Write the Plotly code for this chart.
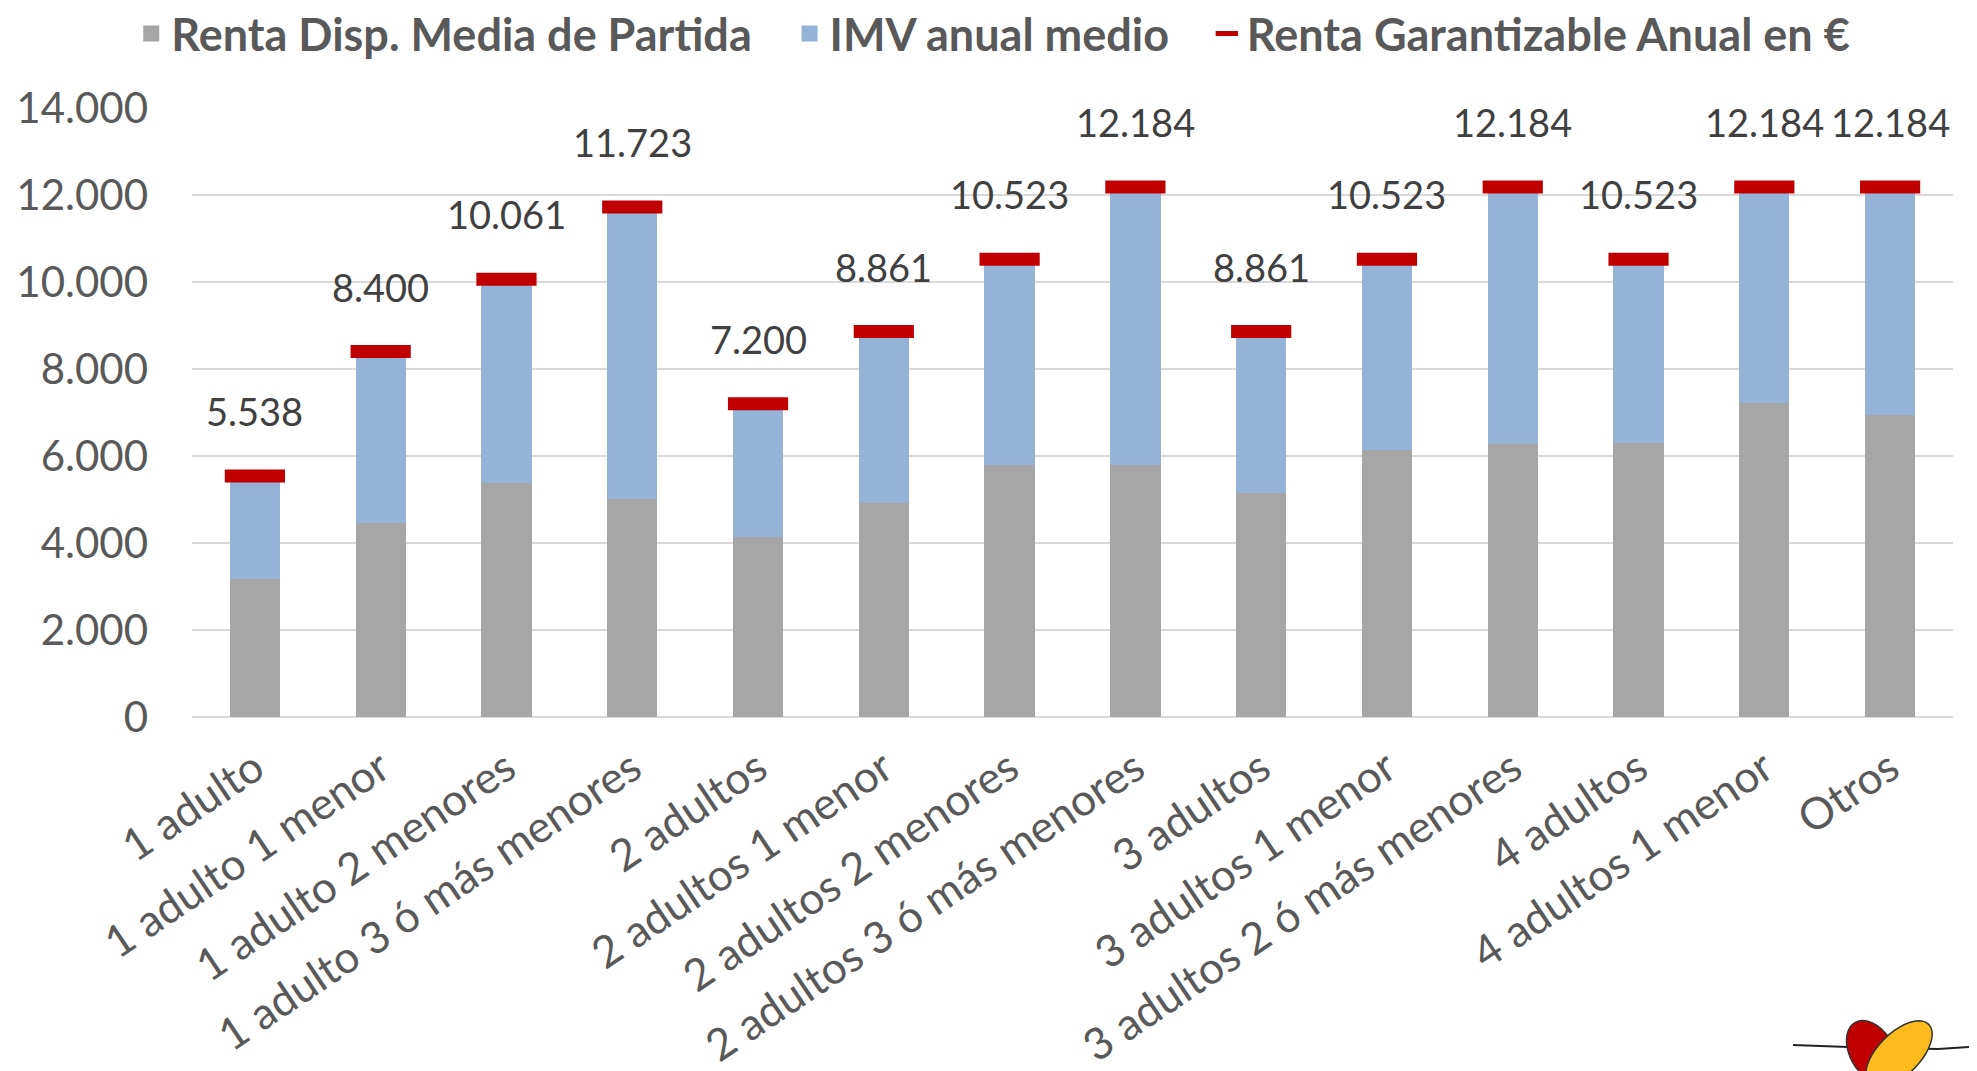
import math
import plotly.graph_objects as go

categorias = ["1 adulto", "1 adulto 1 menor", "1 adulto 2 menores", "1 adulto 3 ó más menores",
              "2 adultos", "2 adultos 1 menor", "2 adultos 2 menores", "2 adultos 3 ó más menores",
              "3 adultos", "3 adultos 1 menor", "3 adultos 2 ó más menores", "4 adultos",
              "4 adultos 1 menor", "Otros"]
renta_partida = [3180, 4460, 5380, 5020, 4130, 4920, 5790, 5790, 5140, 6140, 6270, 6310, 7210, 6950]
imv_anual = [2358, 3940, 4681, 6703, 3070, 3941, 4733, 6394, 3721, 4383, 5914, 4213, 4974, 5234]
renta_garantizable = [5538, 8400, 10061, 11723, 7200, 8861, 10523, 12184, 8861, 10523, 12184, 10523, 12184, 12184]
y_ticks = [0, 2000, 4000, 6000, 8000, 10000, 12000, 14000]

GRAY = "#A6A6A6"
BLUE = "#95B3D7"
RED = "#C00000"
FONT = "Lato"
SP = "\u00a0\u00a0\u00a0"

W, H = 1977, 1071
ML, MR, MT, MB = 184, 32, 100, 362

fig = go.Figure()
fig.add_trace(go.Bar(x=categorias, y=renta_partida, name="Renta Disp. Media de Partida",
                     marker=dict(color=GRAY, line=dict(width=0)), showlegend=False))
fig.add_trace(go.Bar(x=categorias, y=imv_anual, name="IMV anual medio",
                     marker=dict(color=BLUE, line=dict(width=0)), showlegend=False))
fig.add_trace(go.Scatter(x=categorias, y=renta_garantizable, name="Renta Garantizable Anual en €",
                         mode="markers", showlegend=False,
                         marker=dict(symbol="line-ew", size=43, color=RED,
                                     line=dict(color=RED, width=13))))

# legend entries
fig.add_trace(go.Scatter(x=[None], y=[None], mode="markers", name="Renta Disp. Media de Partida" + SP,
                         marker=dict(symbol="square", size=16, color=GRAY)))
fig.add_trace(go.Scatter(x=[None], y=[None], mode="markers", name="IMV anual medio" + SP,
                         marker=dict(symbol="square", size=16, color=BLUE)))
fig.add_trace(go.Scatter(x=[None], y=[None], mode="markers", name="Renta Garantizable Anual en €",
                         marker=dict(symbol="line-ew", size=16, color=RED,
                                     line=dict(color=RED, width=5))))

for c, v in zip(categorias, renta_garantizable):
    fig.add_annotation(x=c, y=v, text=f"{v:,}".replace(",", "."), showarrow=False,
                       yshift=65, yanchor="middle", xanchor="center",
                       font=dict(family=FONT, size=38, color="#404040"))


# decorative logo (bottom-right), drawn in paper coordinates
def px2paper(px, py):
    return (px - ML) / (W - ML - MR), (H - MB - py) / (H - MT - MB)


def ellipse_path(cx, cy, a, b, ang_deg, n=40):
    t = math.radians(ang_deg)
    pts = []
    for i in range(n):
        s = 2 * math.pi * i / n
        ex, ey = b * math.cos(s), a * math.sin(s)
        rx = ex * math.cos(t) - ey * math.sin(t)
        ry = ex * math.sin(t) + ey * math.cos(t)
        pts.append(px2paper(cx + rx, cy + ry))
    return "M " + " L ".join(f"{x:.5f},{y:.5f}" for x, y in pts) + " Z"


line_pts = [px2paper(1785, 1037), px2paper(1840, 1039), px2paper(1930, 1041), px2paper(1977, 1038)]
fig.add_shape(type="path", xref="paper", yref="paper",
              path="M " + " L ".join(f"{x:.5f},{y:.5f}" for x, y in line_pts),
              line=dict(color="#222222", width=2))
fig.add_shape(type="path", xref="paper", yref="paper", path=ellipse_path(1864, 1044, 34, 22, -30),
              fillcolor=RED, line=dict(color="#333333", width=1.5))
fig.add_shape(type="path", xref="paper", yref="paper", path=ellipse_path(1891, 1046, 42, 21, 45),
              fillcolor="#FDBB1E", line=dict(color="#333333", width=1.5))

fig.update_layout(
    width=W, height=H,
    barmode="stack", bargap=0.6,
    separators=",.",
    plot_bgcolor="white", paper_bgcolor="white",
    margin=dict(l=ML, r=MR, t=MT, b=MB, autoexpand=False),
    font=dict(family=FONT, color="#595959"),
    legend=dict(orientation="h", x=0.455, xanchor="center", yref="container", y=0.976, yanchor="middle",
                font=dict(family=FONT, size=45, color="#595959", weight="bold"),
                itemwidth=30, traceorder="normal"),
)
fig.update_yaxes(range=[0, 14000], tickvals=y_ticks, tickformat=",", showgrid=True, automargin=False,
                 gridcolor="#D9D9D9", gridwidth=2, zeroline=True, zerolinecolor="#D9D9D9",
                 zerolinewidth=2, showline=False, ticklabelstandoff=43,
                 tickfont=dict(family=FONT, size=42, color="#595959"))
fig.update_xaxes(range=[-0.5, len(categorias) - 0.5], tickangle=-34, showline=False, showgrid=False,
                 automargin=False, ticks="", tickfont=dict(family=FONT, size=44, color="#595959"),
                 ticklabelstandoff=16)

fig.write_html("out.html")
